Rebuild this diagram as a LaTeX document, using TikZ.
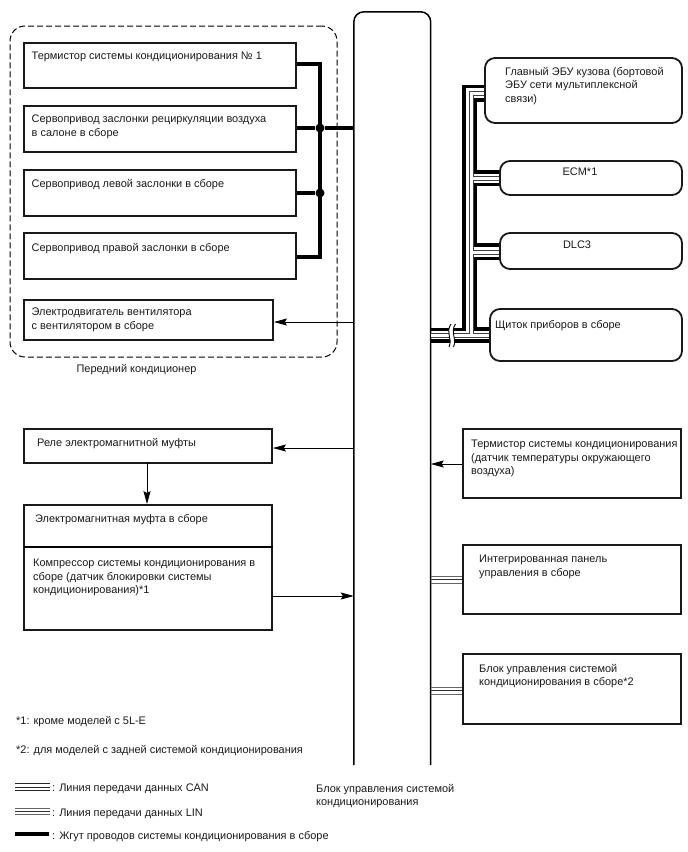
\documentclass[tikz,border=0pt]{standalone}
\usepackage{fontspec}
\setmainfont{Liberation Sans}
\usetikzlibrary{fit,arrows.meta}
\tikzset{
  x=1pt,y=-1pt,
  box/.style={draw=black!90,line width=1.8pt,inner sep=0pt,fit={#1}},
  rbox/.style={draw=black!90,line width=1.8pt,inner sep=0pt,rounded corners=10pt,fit={#1}},
  lbl/.style={anchor=north west,inner sep=0pt,align=left,text=black!90,font=\fontsize{10.95}{13.4}\selectfont},
  arr/.style={draw=black,line width=1pt,-{Stealth[length=13pt,width=7pt,inset=2pt]}},
  harness/.style={draw=black,line width=3.8pt,line join=miter},
  canouter/.style={draw=black!75,line width=5pt},
  caninner/.style={draw=white,line width=3pt},
  linouter/.style={draw=black!60,line width=1pt},
  linmid/.style={draw=black!80,line width=1pt},
  junction/.style={circle,fill=black,inner sep=0pt,minimum size=9pt},
}
\begin{document}
\begin{tikzpicture}
\useasboundingbox (0,0) rectangle (688,852);

% control unit bar, open at its lower end
\node[inner sep=0pt,fit={(354,12)(430.5,765)}] (bar) {};
\draw[line width=1.5pt,rounded corners=10pt] (bar.south west) -- (bar.north west) -- (bar.north east) -- (bar.south east);

% front air conditioner group
\node[draw=black,line width=1pt,dash pattern=on 6pt off 3pt,rounded corners=15pt,inner sep=0pt,fit={(10,26)(337,357)}] (group) {};
\node[box={(24,43)(296,88)}] (t1) {};
\node[box={(24,106)(296,152)}] (rec) {};
\node[box={(24,170)(296,216)}] (left) {};
\node[box={(24,233)(296,279)}] (right) {};
\node[box={(24,300)(273,340)}] (fan) {};
\node[lbl,anchor=north] (grouplbl) at (136.5,364) {Передний кондиционер};

\node[lbl] at (31.5,52) {Термистор системы кондиционирования № 1};
\node[lbl] at (31.5,115) {Сервопривод заслонки рециркуляции воздуха\\в салоне в сборе};
\node[lbl] at (31.5,179) {Сервопривод левой заслонки в сборе};
\node[lbl] at (31.5,243) {Сервопривод правой заслонки в сборе};
\node[lbl] at (31.5,308) {Электродвигатель вентилятора\\с вентилятором в сборе};

% harness joining the front actuators
\coordinate (busTop) at (320,64);
\coordinate (busBot) at (320,257);
\node[junction] (j1) at (320,128) {};
\node[junction] (j2) at (320,193) {};
\draw[harness] (t1.east |- busTop) -- (busTop) -- (busBot) -- (right.east |- busBot);
\draw[harness] (rec.east |- j1) -- (j1) -- (bar.west |- j1);
\draw[harness] (left.east |- j2) -- (j2);
\draw[arr] (bar.west |- 0,322) -- (fan.east |- 0,322);

% clutch and compressor
\node[box={(24,429)(272,463)}] (relay) {};
\node[box={(24,505)(272,630)}] (clutch) {};
\coordinate (divL) at (24,547);
\draw[line width=1.2pt] (divL) -- (clutch.east |- divL);
\coordinate (relayOut) at (147,463);
\coordinate (comp) at (272,596);
\draw[arr] (bar.west |- 0,448) -- (relay.east |- 0,448);
\draw[arr] (relayOut) -- (clutch.north -| relayOut);
\draw[arr] (comp) -- (bar.west |- comp);
\node[lbl] at (37,438) {Реле электромагнитной муфты};
\node[lbl] at (35,514) {Электромагнитная муфта в сборе};
\node[lbl] at (33,559) {Компрессор системы кондиционирования в\\сборе (датчик блокировки системы\\кондиционирования)*1};

% units on the right side
\node[rbox={(485,58)(682,123)}] (body) {};
\node[rbox={(500,161)(682,195)}] (ecm) {};
\node[rbox={(500,233)(682,269)}] (dlc) {};
\node[rbox={(490,309)(682,361)}] (meter) {};
\node[box={(463,429)(681,498)}] (therm) {};
\node[box={(463,545)(681,614)}] (panel) {};
\node[box={(463,654)(681,724)}] (acunit) {};

\node[lbl] at (505,67) {Главный ЭБУ кузова (бортовой\\ЭБУ сети мультиплексной\\связи)};
\node[lbl,anchor=north] at (580,168) {ECM*1};
\node[lbl,anchor=north] at (577,241) {DLC3};
\node[lbl] at (495,320) {Щиток приборов в сборе};
\node[lbl] at (471,440) {Термистор системы кондиционирования\\(датчик температуры окружающего\\воздуха)};
\node[lbl] at (479,555) {Интегрированная панель\\управления в сборе};
\node[lbl] at (479,664) {Блок управления системой\\кондиционирования в сборе*2};
\node[lbl] at (316,784) {Блок управления системой\\кондиционирования};

\draw[arr] (therm.west |- 0,464) -- (bar.east |- 0,464);

% harness and CAN bundle
\draw[harness] (bar.east |- 0,329.5) -- (464,329.5) -- (464,86.5) -- (body.west |- 0,86.5);
\draw[harness] (body.west |- 0,100) -- (475,100) -- (475,172) -- (ecm.west |- 0,172);
\draw[harness] (dlc.west |- 0,245) -- (475,245) -- (475,184.5) -- (ecm.west |- 0,184.5);
\draw[harness] (dlc.west |- 0,258.5) -- (475,258.5) -- (475,329) -- (meter.west |- 0,329);
\draw[harness] (bar.east |- 0,341) -- (meter.west |- 0,341);
\foreach \layer in {canouter,caninner}{
  \draw[\layer] (bar.east |- 0,335) -- (meter.west |- 0,335);
  \draw[\layer] (body.west |- 0,93) -- (471,93) -- (471,335);
  \draw[\layer] (ecm.west |- 0,178) -- (471,178);
  \draw[\layer] (dlc.west |- 0,252.5) -- (471,252.5);
}

% break mark on the bundle
\fill[white] (451,324) .. controls (445,333) and (453,338) .. (449,347) -- (453.5,347) .. controls (457.5,338) and (449.5,333) .. (455.5,324) -- cycle;
\draw[line width=0.9pt] (451,324) .. controls (445,333) and (453,338) .. (449,347);
\draw[line width=0.9pt] (455.5,324) .. controls (449.5,333) and (457.5,338) .. (453.5,347);

% LIN links
\foreach \yy/\tgt in {579.5/panel,690.5/acunit}{
  \draw[linouter] (bar.east |- 0,\yy-3.5) -- (\tgt.west |- 0,\yy-3.5);
  \draw[linmid] (bar.east |- 0,\yy) -- (\tgt.west |- 0,\yy);
  \draw[linouter] (bar.east |- 0,\yy+3.5) -- (\tgt.west |- 0,\yy+3.5);
}

% notes and line legend
\node[lbl] at (16,716) {*1: кроме моделей с 5L-E};
\node[lbl] at (16,745) {*2: для моделей с задней системой кондиционирования};
\coordinate (keyA) at (15,787);
\coordinate (keyB) at (15,811.5);
\coordinate (keyC) at (15,834);
\foreach \off in {-3.4,0,3.4}
  \draw[black!85,line width=1pt] ([yshift=\off pt]keyA) -- ++(35,0);
\draw[linouter] ([yshift=-3.4pt]keyB) -- ++(35,0);
\draw[linmid] (keyB) -- ++(35,0);
\draw[linouter] ([yshift=3.4pt]keyB) -- ++(35,0);
\draw[harness] (keyC) -- ++(34,0);
\node[lbl] at (52,784) {: Линия передачи данных CAN};
\node[lbl] at (52,809) {: Линия передачи данных LIN};
\node[lbl] at (52,831) {: Жгут проводов системы кондиционирования в сборе};
\end{tikzpicture}
\end{document}
